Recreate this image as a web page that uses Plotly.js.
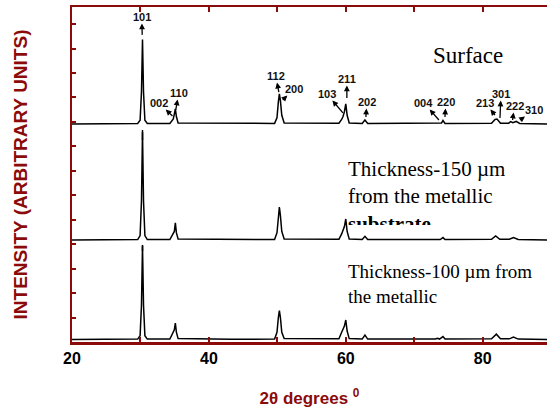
<!DOCTYPE html>
<html>
<head>
<meta charset="utf-8">
<script src="https://cdn.plot.ly/plotly-3.0.1.min.js"></script>
<style>html,body{margin:0;padding:0;background:#fff;}#chart{width:547px;height:409px;}</style>
</head>
<body>
<div id="chart"></div>
<script>
// 2-theta (degrees) and relative intensity (arbitrary units above each pattern's own baseline)
const surfaceTheta = [20, 29.6, 29.95, 30.15, 30.3, 30.45, 30.65, 31.0, 34.3, 34.6, 34.8, 34.95, 35.1, 35.25, 35.5,
  49.6, 49.95, 50.15, 50.3, 50.45, 50.65, 51.0, 59.0, 59.4, 59.6, 59.8, 60.0, 60.2, 60.5, 62.4, 62.8, 63.2,
  73.2, 73.5, 73.8, 74.0, 74.2, 74.5, 81.3, 81.8, 82.1, 82.6, 83.8, 84.1, 84.4, 84.9, 85.4, 89.4];
const surfaceInt = [0, 0.02, 0.15, 1.3, 3.45, 1.3, 0.15, 0.02, 0.02, 0.12, 0.2, 0.4, 0.61, 0.3, 0.04,
  0.02, 0.25, 0.9, 1.23, 0.95, 0.35, 0.04, 0.03, 0.18, 0.3, 0.5, 0.82, 0.35, 0.04, 0.02, 0.16, 0.02,
  0.02, 0.05, 0.02, 0.04, 0.14, 0.02, 0.03, 0.18, 0.2, 0.03, 0.03, 0.09, 0.05, 0.1, 0.02, 0];

const t150Theta = [20, 29.6, 29.95, 30.15, 30.3, 30.45, 30.65, 31.0, 34.3, 34.6, 34.85, 34.95, 35.1, 35.25, 35.5,
  49.6, 49.95, 50.15, 50.3, 50.45, 50.65, 51.0, 59.0, 59.4, 59.65, 59.8, 60.0, 60.2, 60.5, 62.4, 62.8, 63.2,
  73.8, 74.2, 74.5, 81.3, 81.9, 82.5, 83.9, 84.5, 85.2, 89.4];
const t150Int = [0, 0.02, 0.18, 1.6, 4.42, 1.6, 0.18, 0.02, 0.02, 0.15, 0.29, 0.35, 0.7, 0.3, 0.04,
  0.02, 0.3, 1.0, 1.35, 1.0, 0.35, 0.04, 0.03, 0.25, 0.4, 0.55, 0.86, 0.35, 0.04, 0.02, 0.15, 0.02,
  0.02, 0.1, 0.02, 0.03, 0.17, 0.03, 0.03, 0.1, 0.02, 0];

const t100Theta = [20, 29.6, 29.95, 30.15, 30.3, 30.45, 30.65, 31.0, 34.3, 34.6, 34.8, 34.95, 35.1, 35.25, 35.5,
  42.9, 43.1, 43.3, 49.6, 49.95, 50.15, 50.3, 50.45, 50.65, 51.0, 59.0, 59.4, 59.65, 59.8, 60.0, 60.2, 60.5,
  62.4, 62.8, 63.2, 73.1, 73.4, 73.7, 74.2, 74.5, 81.3, 82.0, 82.6, 83.9, 84.5, 85.2, 89.4];
const t100Int = [0, 0.02, 0.16, 1.4, 3.84, 1.4, 0.16, 0.02, 0.02, 0.2, 0.38, 0.4, 0.67, 0.3, 0.04,
  0.01, 0.04, 0.01, 0.02, 0.3, 0.9, 1.18, 0.9, 0.3, 0.04, 0.03, 0.3, 0.47, 0.55, 0.8, 0.35, 0.04,
  0.02, 0.18, 0.02, 0.02, 0.05, 0.02, 0.12, 0.02, 0.03, 0.22, 0.03, 0.03, 0.1, 0.02, 0];

// vertical stacking offsets (arbitrary units)
const offsets = [8.92, 4.17, 0.1];

// Miller index labels: text, arrow tail (2θ, intensity units)
const hklText = ['101', '002', '110', '112', '200', '103', '211', '202', '004', '220', '213', '301', '222', '310'];
const hklTailX = [30.26, 34.68, 35.16, 50.22, 50.8, 59.58, 60.16, 62.94, 73.61, 74.49, 81.8, 82.53, 84.37, 85.47];
const hklTailY = [12.56, 9.24, 9.49, 10.22, 9.9, 9.37, 9.98, 9.2, 9.08, 9.2, 9.28, 9.16, 9.08, 9.08];

const xTickVals = [20, 40, 60, 80];
const xMinorVals = [30, 50, 70];

const red = '#8b0b0b';
function shifted(arr, off) { return arr.map(v => v + off); }

// label offsets from the arrow tail, in pixels (layout only)
const labelDX = [-0.5, -13.5, 3, -3, 11, -16, 0, 1, -15, 1, -10, 1, 2, 14];
const labelDY = [-18, -13, -17, -16, -11, -19, -19, -15, -17, -15, -12, -24, -14, -10];

const lineStyle = {color: '#000', width: 1.5};
const traces = [
  {x: surfaceTheta, y: shifted(surfaceInt, offsets[0]), mode: 'lines', line: lineStyle, hoverinfo: 'skip'},
  {x: t150Theta, y: shifted(t150Int, offsets[1]), mode: 'lines', line: lineStyle, hoverinfo: 'skip'},
  {x: t100Theta, y: shifted(t100Int, offsets[2]), mode: 'lines', line: lineStyle, hoverinfo: 'skip'}
];

const annotations = hklText.map((t, i) => ({
  text: '<b>' + t + '</b>', x: hklTailX[i], y: hklTailY[i], xref: 'x', yref: 'y',
  showarrow: true, ax: labelDX[i], ay: labelDY[i], arrowside: 'start',
  startarrowhead: 2, startarrowsize: 0.9, arrowwidth: 1.3, arrowcolor: '#000',
  standoff: 0, startstandoff: 0, borderpad: 0,
  font: {family: 'Liberation Sans, Arial, sans-serif', size: 11, color: '#111'}
}));
annotations.push({
  text: 'Surface', x: 72.44, y: 11.7, xref: 'x', yref: 'y', xanchor: 'left', yanchor: 'middle',
  showarrow: false, font: {family: 'Liberation Serif, Times New Roman, serif', size: 23, color: '#000'}
});
annotations.push({
  text: 'Thickness-150 µm<br>from the metallic<br><b>substrate</b>', x: 60.04, y: 7.65,
  xref: 'x', yref: 'y', xanchor: 'left', yanchor: 'top', align: 'left', valign: 'top', height: 68,
  showarrow: false, font: {family: 'Liberation Serif, Times New Roman, serif', size: 21, color: '#000'}
});
annotations.push({
  text: 'Thickness-100 µm from<br>the metallic', x: 60.04, y: 3.38,
  xref: 'x', yref: 'y', xanchor: 'left', yanchor: 'top', align: 'left',
  showarrow: false, font: {family: 'Liberation Serif, Times New Roman, serif', size: 19, color: '#000'}
});

const layout = {
  width: 547, height: 409,
  margin: {l: 72, r: 0, t: 7, b: 67},
  paper_bgcolor: '#fff', plot_bgcolor: '#fff',
  showlegend: false,
  xaxis: {
    range: [20, 89.4], tickvals: xTickVals,
    ticks: 'inside', ticklen: 5, tickwidth: 2, tickcolor: red,
    minor: {tickvals: xMinorVals, ticks: 'inside', ticklen: 5, tickwidth: 2, tickcolor: red, showgrid: false},
    showline: true, linewidth: 2.5, linecolor: red, mirror: 'ticks',
    showgrid: false, zeroline: false,
    tickfont: {family: 'Liberation Sans, Arial, sans-serif', size: 16, color: '#000', weight: 'bold'},
    title: {text: '<b>2θ degrees <sup>0</sup></b>', standoff: 27,
      font: {family: 'Liberation Sans, Arial, sans-serif', size: 17, color: red}}
  },
  yaxis: {
    range: [0, 13.7], tick0: 0, dtick: 1,
    ticks: 'inside', ticklen: 4, tickwidth: 2, tickcolor: red,
    showline: true, linewidth: 2.5, linecolor: red,
    showgrid: false, zeroline: false, showticklabels: false,
    title: {text: '<b>INTENSITY (ARBITRARY UNITS)</b>', standoff: 37,
      font: {family: 'Liberation Sans, Arial, sans-serif', size: 19, color: red}}
  },
  shapes: [
    {type: 'line', xref: 'x', yref: 'y', x0: 30.3, x1: 30.3, y0: 8.26, y1: 8.67, line: {color: '#000', width: 1.5}},
    {type: 'line', xref: 'x', yref: 'y', x0: 30.3, x1: 30.3, y0: 3.72, y1: 3.97, line: {color: '#000', width: 1.5}}
  ],
  annotations: annotations
};

Plotly.newPlot('chart', traces, layout, {staticPlot: true, displayModeBar: false});
</script>
</body>
</html>
